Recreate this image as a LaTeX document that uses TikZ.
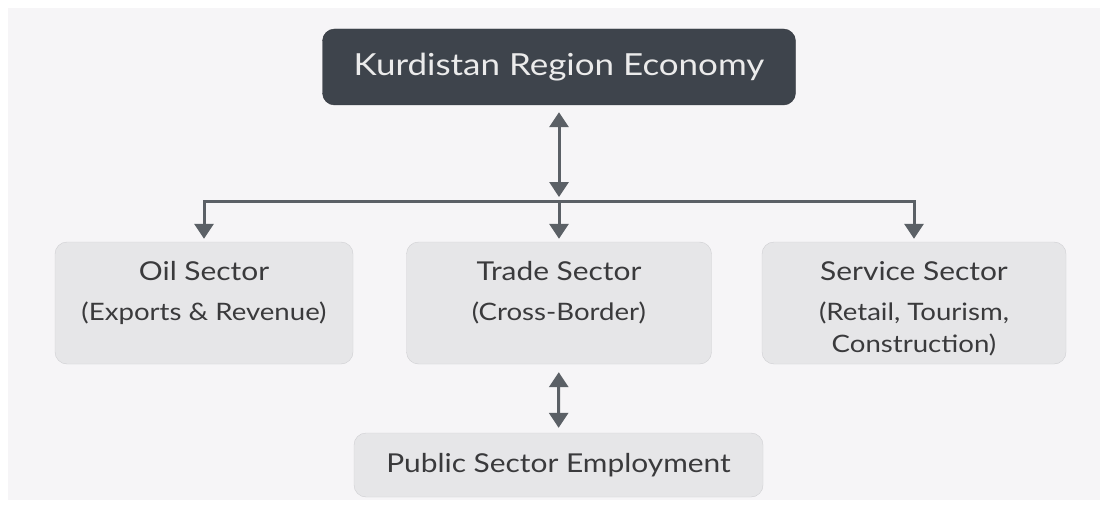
\documentclass[tikz,border=0pt]{standalone}
\usepackage{fontspec}
\setmainfont{Lato}[FakeStretch=1.15]
\usetikzlibrary{arrows.meta}
\definecolor{panel}{HTML}{F6F5F7}
\definecolor{darkbox}{HTML}{3E444C}
\definecolor{lightbox}{HTML}{E6E6E8}
\definecolor{boxline}{HTML}{CFCFD2}
\definecolor{linkgray}{HTML}{5B6066}
\definecolor{inkgray}{HTML}{3A3A3C}
\newcommand{\subline}{\fontsize{24}{32}\selectfont}
% text sits at the top of a sector box
\newcommand{\sectortext}[1]{\parbox[c][122pt][t]{292pt}{\centering\rule{0pt}{38pt}#1}}
\begin{document}
\begin{tikzpicture}[x=1pt, y=-1pt,
    topbox/.style = {draw=darkbox!80!black, fill=darkbox, rounded corners=12pt, text=white!92!black,
                     minimum width=473pt, minimum height=76pt, inner sep=0pt,
                     font=\fontsize{30.4}{36}\selectfont},
    sectorbox/.style = {draw=boxline, fill=lightbox, rounded corners=12pt, text=inkgray,
                        minimum height=122pt, inner sep=0pt, font=\fontsize{26}{32}\selectfont},
    link/.style = {line width=3pt, draw=linkgray},
    tip/.style = {-{Triangle[width=19pt, length=15pt]}},
    twotip/.style = {{Triangle[width=19pt, length=15pt]}-{Triangle[width=19pt, length=15pt]}}]

        % background panel
        \fill[white] (0,0) rectangle (1108,508);
        \fill[panel] (8,8) rectangle (1100,500);
    
        % Draw the boxes
        \node[topbox] (economy) at (559, 67) {Kurdistan Region Economy};
    
        \node[sectorbox, minimum width=298pt] (oil) at (204, 303)
            {\sectortext{Oil Sector\\[8pt]{\subline (Exports \& Revenue)}}};
        \node[sectorbox, minimum width=305pt] (trade) at (559, 303)
            {\sectortext{Trade Sector\\[8pt]{\subline (Cross-Border)}}};
        \node[sectorbox, minimum width=304pt] (service) at (914, 303)
            {\sectortext{Service Sector\\[8pt]{\subline (Retail, Tourism,}\\{\subline Construction)}}};
    
        \node[sectorbox, minimum width=409pt, minimum height=64pt] (public) at (558.5, 465)
            {Public Sector Employment};
    
        \coordinate (hub) at (559, 201);
    
        % Draw the connectors
        \draw[link, twotip, shorten <=7pt, shorten >=4pt] (economy) -- (hub);
        \draw[link, tip, shorten >=3pt] (hub) -| (oil);
        \draw[link, tip, shorten >=3pt] (hub) -| (service);
        \draw[link, tip, shorten >=3pt] (hub) -- (trade);
        \draw[link, twotip, shorten <=8pt, shorten >=5pt] (trade) -- (public);
    
    \end{tikzpicture}
\end{document}
